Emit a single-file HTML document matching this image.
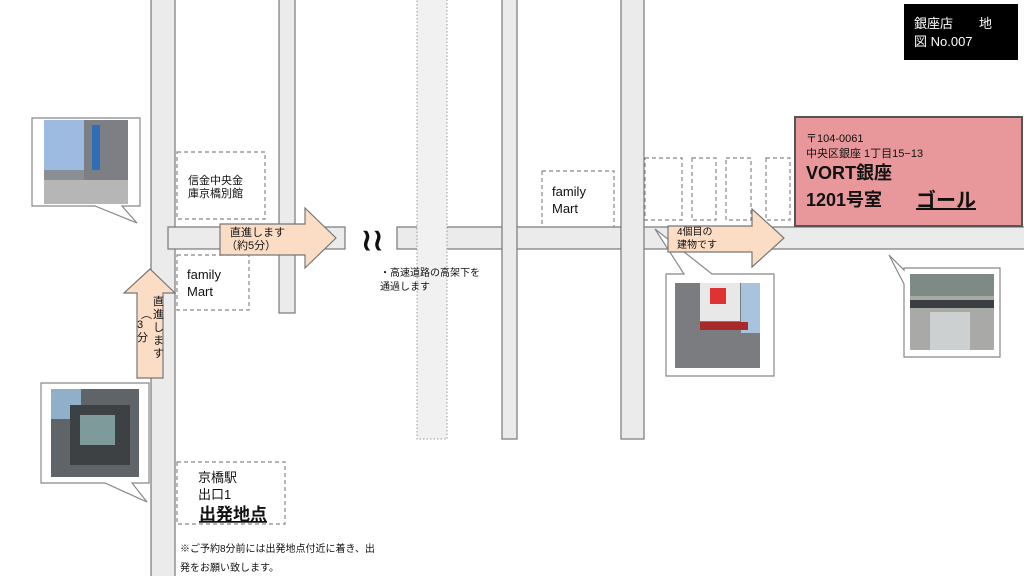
<!DOCTYPE html>
<html><head><meta charset="utf-8"><style>
html,body{margin:0;padding:0;background:#fff;width:1024px;height:576px;overflow:hidden}
svg text{font-family:"Liberation Sans","Noto Sans CJK JP",sans-serif;fill:#111}
</style></head><body>
<svg width="1024" height="576" viewBox="0 0 1024 576" xmlns="http://www.w3.org/2000/svg">
<g fill="#ebebeb" stroke="#777" stroke-width="1.2">
<rect x="151" y="-2" width="24" height="580"/>
<rect x="168" y="227" width="177" height="22"/>
<rect x="397" y="227" width="630" height="22"/>
<rect x="279" y="-2" width="16" height="315"/>
<rect x="502" y="-2" width="15" height="441"/>
<rect x="621" y="-2" width="23" height="441"/>
</g>
<rect x="417" y="-2" width="30" height="441" fill="#f1f1f1" stroke="#999" stroke-width="1" stroke-dasharray="1.5,2"/>
<text x="361" y="250" font-size="30" font-weight="bold">≀≀</text>
<g fill="none" stroke="#888" stroke-width="1.2" stroke-dasharray="4,3">
<rect x="177" y="152" width="88" height="67"/>
<rect x="177" y="255" width="72" height="55"/>
<rect x="542" y="171" width="72" height="56"/>
<rect x="645" y="158" width="37" height="62"/>
<rect x="692" y="158" width="24" height="62"/>
<rect x="726" y="158" width="25" height="62"/>
<rect x="766" y="158" width="24" height="62"/>
<rect x="177" y="462" width="108" height="62"/>
</g>
<text x="188" y="184" font-size="11">信金中央金</text>
<text x="188" y="197" font-size="11">庫京橋別館</text>
<text x="187" y="279" font-size="13">family</text>
<text x="187" y="296" font-size="13">Mart</text>
<text x="552" y="196" font-size="13">family</text>
<text x="552" y="213" font-size="13">Mart</text>
<text x="198" y="482" font-size="13">京橋駅</text>
<text x="198" y="499" font-size="13">出口1</text>
<text x="199" y="520" font-size="17" font-weight="bold" text-decoration="underline">出発地点</text>
<text x="180" y="552" font-size="10">※ご予約8分前には出発地点付近に着き、出</text>
<text x="180" y="571" font-size="10">発をお願い致します。</text>
<text x="380" y="276" font-size="10">・高速道路の高架下を</text>
<text x="380" y="290" font-size="10">通過します</text>
<!-- callouts -->
<g fill="#fff" stroke="#888" stroke-width="1.2">
<path d="M32,118 H140 V206 H122 L137,223 L95,206 H32 Z"/>
<path d="M41,383 H149 V483 H132 L147,502 L105,483 H41 Z"/>
<path d="M666,274 H684 L655,229 L712,274 H774 V376 H666 Z"/>
<path d="M904,268 H1000 V357 H904 V284 L889,255 L904,270 Z"/>
</g>
<!-- arrows -->
<g fill="#fbdcc4" stroke="#777" stroke-width="1.2">
<polygon points="220,224 305,224 305,208 336,238 305,268 305,255 220,255"/>
<polygon points="137,378 163,378 163,293 175,293 150,269 124,293 137,293"/>
<polygon points="668,226 752,226 752,209 784,238 752,267 752,252 668,252"/>
</g>
<text x="230" y="236" font-size="11">直進します</text>
<text x="226" y="249" font-size="11">（約5分）</text>
<text x="677" y="235" font-size="10">4個目の</text>
<text x="677" y="248" font-size="10">建物です</text>
<g font-size="11">
<text x="153" y="305">直</text><text x="153" y="318">進</text><text x="153" y="331">し</text><text x="153" y="344">ま</text><text x="153" y="357">す</text>
<text x="141" y="318">︵</text><text x="137" y="328">3</text><text x="137" y="341">分</text>
</g>
<!-- pink box -->
<rect x="795" y="117" width="227" height="109" fill="#e8989a" stroke="#555" stroke-width="2"/>
<text x="806" y="142" font-size="11">〒104-0061</text>
<text x="806" y="157" font-size="11">中央区銀座 1丁目15−13</text>
<text x="806" y="179" font-size="18" font-weight="bold">VORT銀座</text>
<text x="806" y="206" font-size="18" font-weight="bold">1201号室</text>
<text x="916" y="207" font-size="20" font-weight="bold" text-decoration="underline">ゴール</text>
<!-- title -->
<rect x="904" y="4" width="114" height="56" fill="#000"/>
<text x="914" y="28" font-size="13" style="fill:#fff">銀座店　　地</text>
<text x="914" y="46" font-size="13" style="fill:#fff">図 No.007</text>
<!-- photos -->
<rect x="44" y="120" width="84" height="84" fill="#8a8f96"/>
<rect x="44" y="120" width="40" height="50" fill="#9dbbe0"/>
<rect x="84" y="120" width="44" height="70" fill="#7d7f84"/>
<rect x="92" y="125" width="8" height="45" fill="#2f6fb5"/>
<rect x="44" y="180" width="84" height="24" fill="#b6b6b6"/>
<rect x="51" y="389" width="88" height="88" fill="#5f6468"/>
<rect x="51" y="389" width="30" height="30" fill="#8fb0c8"/>
<rect x="70" y="405" width="60" height="60" fill="#3e4144"/>
<rect x="80" y="415" width="35" height="30" fill="#7f9a9a"/>
<rect x="675" y="283" width="85" height="85" fill="#7a7c80"/>
<rect x="741" y="283" width="19" height="50" fill="#a9c3dc"/>
<rect x="700" y="283" width="40" height="38" fill="#e8e8e8"/>
<rect x="710" y="288" width="16" height="16" fill="#d33"/>
<rect x="700" y="322" width="48" height="8" fill="#a82a2a"/>
<rect x="910" y="274" width="84" height="76" fill="#a9aaa8"/>
<rect x="910" y="274" width="84" height="22" fill="#7e8a86"/>
<rect x="910" y="300" width="84" height="8" fill="#3c3f42"/>
<rect x="930" y="312" width="40" height="38" fill="#ccd0d0"/>
</svg>
</body></html>
